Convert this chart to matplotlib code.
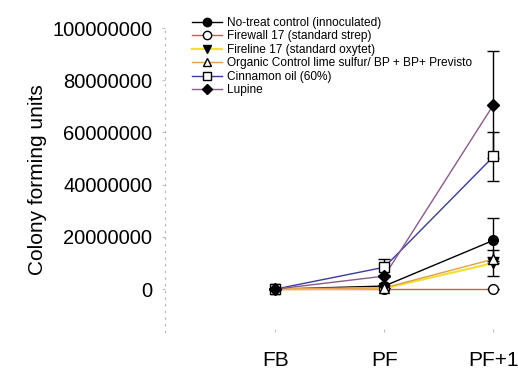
import matplotlib
matplotlib.use("Agg")
import matplotlib.pyplot as plt
from matplotlib.lines import Line2D

plt.rcParams['font.family'] = ['Liberation Sans', 'DejaVu Sans']

timepoints = ["FB", "PF", "PF+1"]
labels = ["No-treat control (innoculated)",
          "Firewall 17 (standard strep)",
          "Fireline 17 (standard oxytet)",
          "Organic Control lime sulfur/ BP + BP+ Previsto",
          "Cinnamon oil (60%)",
          "Lupine"]
notreat = [0, 1.2e6, 18.7e6]
notreat_err = [0, 0.5e6, 8.5e6]
firewall = [0, 0, 0]
firewall_err = [0, 0, 0]
fireline = [0, 0.3e6, 10.0e6]
fireline_err = [0, 0, 5.0e6]
organic = [0, 0.5e6, 11.5e6]
organic_err = [0, 0, 0.8e6]
cinnamon = [0, 8.4e6, 50.8e6]
cinnamon_err = [0, 3.3e6, 9.5e6]
lupine = [0, 5.0e6, 70.6e6]
lupine_err = [0, 0, 20.5e6]
yticks = [0, 20000000, 40000000, 60000000, 80000000, 100000000]

series = [
    (notreat, notreat_err, '#000000', 'o', 'black', 1.0),
    (firewall, firewall_err, '#d9534f', 'o', 'white', 1.0),
    (fireline, fireline_err, '#f2e03a', 'v', 'black', 1.6),
    (organic, organic_err, '#e0a050', '^', 'white', 1.0),
    (cinnamon, cinnamon_err, '#3a3a9e', 's', 'white', 1.0),
    (lupine, lupine_err, '#8a5a8a', 'D', 'black', 1.0),
]

W, H = 518, 369
fig = plt.figure(figsize=(W/100, H/100), dpi=100)
ax = fig.add_axes([165/W, 1-332/H, (512-165)/W, (332-28)/H])
x = list(range(len(timepoints)))

handles = []
for (vals, err, col, mk, fc, lw), lab in zip(series, labels):
    ax.errorbar(x, vals, yerr=err, color=col, lw=lw, ecolor='black', elinewidth=1.0,
                capsize=4, capthick=1.0, fmt='-', zorder=2)
    ms = 6 if mk == 'D' else 7
    ax.plot(x, vals, linestyle='none', marker=mk, markersize=ms, markerfacecolor=fc,
            markeredgecolor='black', markeredgewidth=1.0, zorder=3)
    handles.append(Line2D([0], [0], color=col, lw=lw, marker=mk, markersize=ms-1,
                          markerfacecolor=fc, markeredgecolor='black', markeredgewidth=1.0))

ax.set_xlim(-1.01, 2.17)
ax.set_ylim(-16.4e6, 100e6)
ax.set_xticks(x)
ax.set_xticklabels(timepoints, fontsize=15)
ax.set_yticks(yticks)
ax.set_yticklabels([str(v) for v in yticks], fontsize=14.5)
ax.set_ylabel("Colony forming units", fontsize=15, labelpad=4)

for s in ['top', 'right', 'bottom']:
    ax.spines[s].set_visible(False)
ax.spines['left'].set_color('#b0b0b0')
ax.spines['left'].set_linestyle((0, (1, 5)))
ax.spines['left'].set_linewidth(0.8)
ax.tick_params(axis='y', length=2, color='#c0c0c0', pad=7)
ax.tick_params(axis='x', length=2, color='#c0c0c0', pad=14, direction='in')

fig.legend(handles, labels, loc='upper left', bbox_to_anchor=(192/W, 1-17/H),
           frameon=False, fontsize=8.6, handlelength=2.5, handletextpad=0.4,
           labelspacing=0.12, borderpad=0, borderaxespad=0)

fig.savefig("out.png", dpi=100)
